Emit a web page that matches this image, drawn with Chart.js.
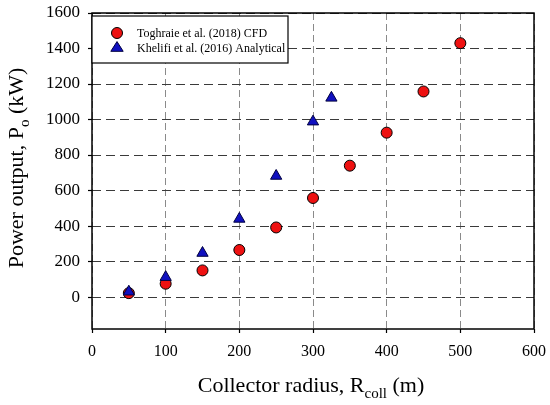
<!DOCTYPE html>
<html>
<head>
<meta charset="utf-8">
<script src="https://cdn.jsdelivr.net/npm/chart.js@4.4.1/dist/chart.umd.min.js"></script>
<style>
  html, body { margin: 0; padding: 0; background: #fff; }
  #wrap { width: 550px; height: 405px; }
</style>
</head>
<body>
<div id="wrap"><canvas id="chart" width="550" height="405"></canvas></div>
<script>
// Data
const cfdRadius = [50, 100, 150, 200, 250, 300, 350, 400, 450, 500];
const cfdPower = [22, 75, 150, 265, 392, 558, 740, 926, 1158, 1430];
const analyticRadius = [50, 100, 150, 200, 250, 300, 325];
const analyticPower = [30, 112, 248, 440, 682, 988, 1122];
const xTicks = [0, 100, 200, 300, 400, 500, 600];
const yTicks = [0, 200, 400, 600, 800, 1000, 1200, 1400, 1600];
const seriesNames = ['Toghraie et al. (2018) CFD', 'Khelifi et al. (2016) Analytical'];

const SERIF = '"Liberation Serif", "Times New Roman", serif';

const toPoints = (xs, ys) => xs.map((x, i) => ({ x: x, y: ys[i] }));

// Frame, axis titles with subscripts, and the boxed legend
const decorations = {
    id: 'decorations',
    afterDraw(chart) {
        const { ctx, chartArea: a } = chart;
        ctx.save();
        ctx.strokeStyle = '#000';
        ctx.lineWidth = 1.5;
        ctx.setLineDash([]);
        ctx.strokeRect(a.left, a.top, a.right - a.left, a.bottom - a.top);

        // x title
        ctx.fillStyle = '#000';
        ctx.textBaseline = 'alphabetic';
        const big = '22px ' + SERIF, small = '15px ' + SERIF;
        const xParts = [['Collector radius, R', big, 0], ['coll', small, 6], [' (m)', big, 0]];
        drawParts(ctx, xParts, 311, 392);

        // y title (rotated)
        ctx.save();
        ctx.translate(23, 168);
        ctx.rotate(-Math.PI / 2);
        const yParts = [['Power output, P', big, 0], ['o', small, 6], [' (kW)', big, 0]];
        drawParts(ctx, yParts, 0, 0);
        ctx.restore();

        // legend box
        const lx = a.left, ly = 16, lw = 196, lh = 47;
        ctx.fillStyle = '#fff';
        ctx.fillRect(lx, ly, lw, lh);
        ctx.strokeStyle = '#000';
        ctx.lineWidth = 1.2;
        ctx.strokeRect(lx, ly, lw, lh);
        const rows = [33, 48];
        ctx.font = '12px ' + SERIF;
        ctx.textBaseline = 'middle';
        ctx.textAlign = 'left';
        rows.forEach((ry, i) => {
            const ds = chart.data.datasets[i];
            ctx.fillStyle = ds.backgroundColor;
            ctx.strokeStyle = ds.borderColor;
            ctx.lineWidth = ds.borderWidth;
            ctx.beginPath();
            drawMarker(ctx, ds.pointStyle, 117, ry, ds.pointRadius);
            ctx.fill();
            ctx.stroke();
            ctx.fillStyle = '#000';
            ctx.fillText(seriesNames[i], 137, ry + 1);
        });
        ctx.restore();
    }
};

function drawMarker(ctx, style, x, y, r) {
    if (style === 'triangle') {
        const h = r * 1.5;
        ctx.moveTo(x, y - h * 0.66);
        ctx.lineTo(x + r * 0.95, y + h * 0.34);
        ctx.lineTo(x - r * 0.95, y + h * 0.34);
        ctx.closePath();
    } else {
        ctx.arc(x, y, r, 0, Math.PI * 2);
    }
}

function drawParts(ctx, parts, cx, baseline) {
    let total = 0;
    parts.forEach(p => { ctx.font = p[1]; total += ctx.measureText(p[0]).width; });
    let x = cx - total / 2;
    ctx.textAlign = 'left';
    parts.forEach(p => {
        ctx.font = p[1];
        ctx.fillText(p[0], x, baseline + p[2]);
        x += ctx.measureText(p[0]).width;
    });
}

new Chart(document.getElementById('chart'), {
    type: 'scatter',
    data: {
        datasets: [
            {
                label: seriesNames[0],
                data: toPoints(cfdRadius, cfdPower),
                order: 2,
                pointStyle: 'circle',
                pointRadius: 5.5,
                backgroundColor: '#ee1111',
                borderColor: '#000',
                borderWidth: 1
            },
            {
                label: seriesNames[1],
                data: toPoints(analyticRadius, analyticPower),
                order: 1,
                pointStyle: 'triangle',
                pointRadius: 6.5,
                backgroundColor: '#1010c0',
                borderColor: '#000040',
                borderWidth: 1
            }
        ]
    },
    options: {
        responsive: false,
        animation: false,
        devicePixelRatio: 1,
        layout: { padding: { left: 0, right: 16, top: 13, bottom: 0 } },
        plugins: { legend: { display: false }, tooltip: { enabled: false } },
        scales: {
            x: {
                type: 'linear',
                min: 0,
                max: 600,
                afterBuildTicks: s => { s.ticks = xTicks.map(v => ({ value: v })); },
                afterFit: s => {
                    s.height = 76;
                    s.paddingLeft = 0;
                    s.paddingRight = 0;
                },
                grid: {
                    color: '#8a8a8a',
                    lineWidth: 1,
                    tickLength: 4,
                    tickColor: '#000',
                    tickBorderDash: [],
                    tickWidth: 1.2
                },
                border: { display: false, dash: [7, 4] },
                ticks: {
                    color: '#000',
                    padding: 9,
                    maxRotation: 0,
                    callback: v => String(v),
                    font: { family: SERIF, size: 16 }
                }
            },
            y: {
                type: 'linear',
                min: -180,
                max: 1600,
                afterBuildTicks: s => { s.ticks = yTicks.map(v => ({ value: v })); },
                afterFit: s => {
                    s.width = 92;
                    s.paddingTop = 0;
                    s.paddingBottom = 0;
                },
                grid: {
                    color: '#3a3a3a',
                    lineWidth: 1,
                    tickLength: 4,
                    tickColor: '#000',
                    tickBorderDash: [],
                    tickWidth: 1.2
                },
                border: { display: false, dash: [9, 5] },
                ticks: {
                    color: '#000',
                    padding: 8,
                    callback: v => String(v),
                    font: { family: SERIF, size: 17 }
                }
            }
        }
    },
    plugins: [decorations]
});
</script>
</body>
</html>
